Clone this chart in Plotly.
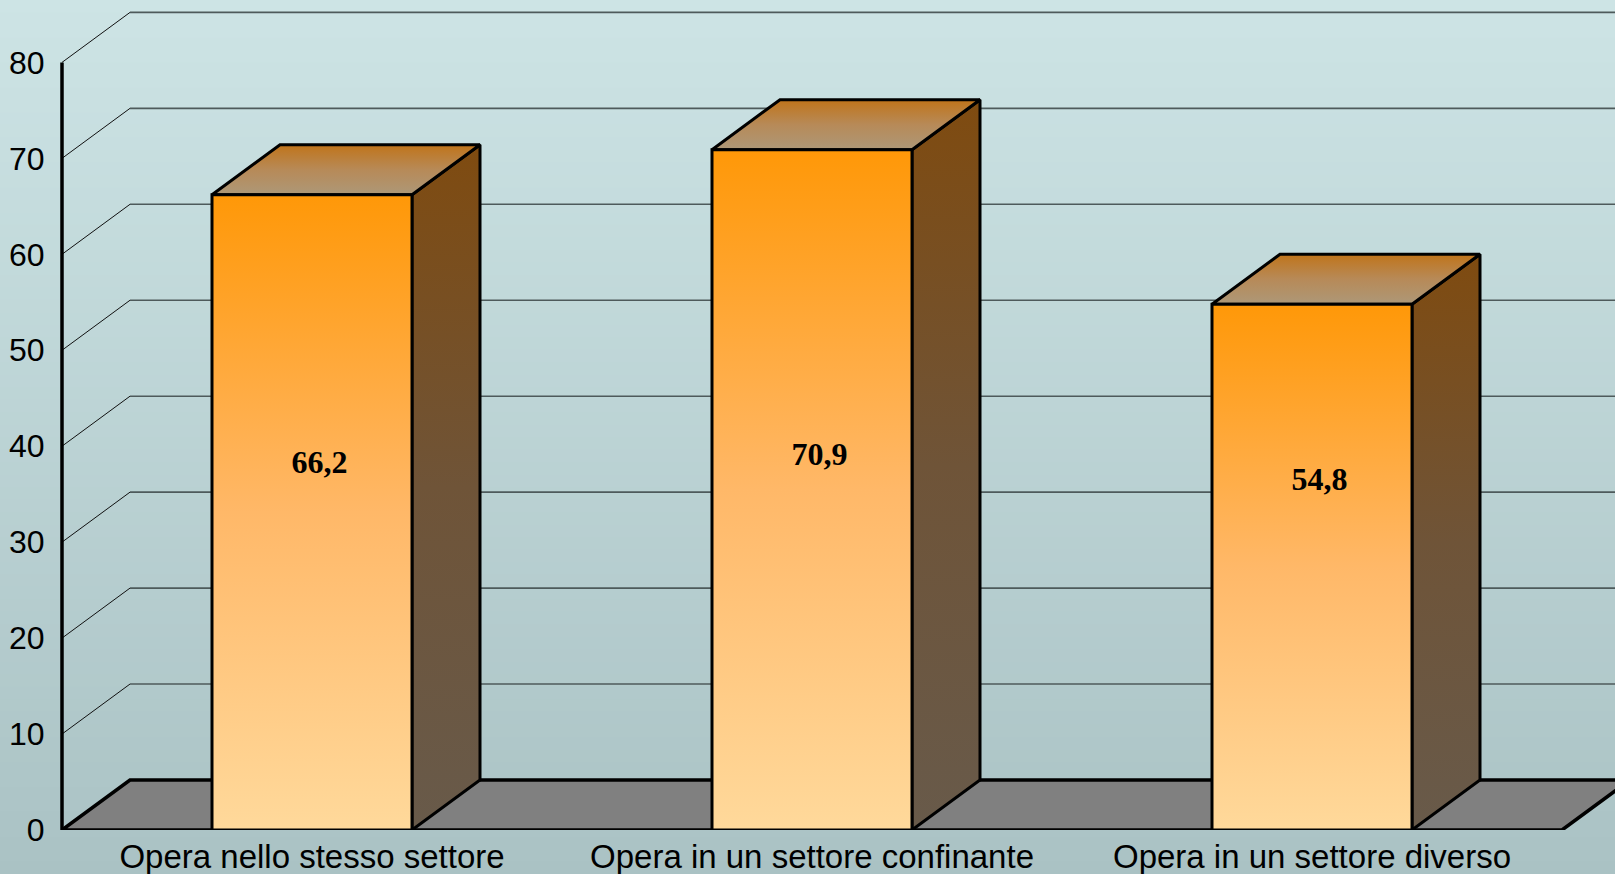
import plotly.graph_objects as go

# ---------------- data ----------------
categories = ["Opera nello stesso settore", "Opera in un settore confinante", "Opera in un settore diverso"]
values = [66.2, 70.9, 54.8]
value_labels = ["66,2", "70,9", "54,8"]
y_ticks = [0, 10, 20, 30, 40, 50, 60, 70, 80]

# ---------------- geometry / style ----------------
W, H = 1615, 874
ML, MB = 56, 44
PX_PER_X = 500.0          # pixels per category unit
PX_PER_Y = 9.595          # pixels per value unit
X0 = -0.5 - (62 - ML) / PX_PER_X
X1 = -0.5 + (W - 62) / PX_PER_X
Y1 = (H - MB) / PX_PER_Y
BAR_W = 0.4
DX = 68 / PX_PER_X        # depth offset (x)
DY = 50 / PX_PER_Y        # depth offset (y)
XL = -0.5
XR = len(categories) - 0.5

fig = go.Figure()

# background gradient (paper)
top_c = (205, 228, 229)
bot_c = (170, 194, 196)
N = 70
pw = W - ML
ph = H - MB
shapes = []
for i in range(N):
    p0 = i * H / N
    p1 = (i + 1) * H / N + 1
    t = (i + 0.5) / N
    c = tuple(round(top_c[k] + (bot_c[k] - top_c[k]) * t) for k in range(3))
    shapes.append(dict(type="rect", xref="paper", yref="paper", layer="below",
                       x0=-ML / pw - 0.01, x1=1.01,
                       y0=1 - p1 / ph, y1=1 - p0 / ph,
                       fillcolor="rgb(%d,%d,%d)" % c, line=dict(width=0)))

# back wall gridlines
gx_d, gy_d, gx_h, gy_h = [], [], [], []
for v in y_ticks:
    if v == 0:
        continue
    gx_d += [XL, XL + DX, None]
    gy_d += [v, v + DY, None]
    gx_h += [XL + DX, X1 + 0.2, None]
    gy_h += [v + DY, v + DY, None]
fig.add_trace(go.Scatter(x=gx_h, y=gy_h, mode="lines",
                         line=dict(color="#4e5a5b", width=1.6), hoverinfo="skip"))
fig.add_trace(go.Scatter(x=gx_d, y=gy_d, mode="lines",
                         line=dict(color="#111111", width=1), hoverinfo="skip"))

# floor
fig.add_trace(go.Scatter(
    x=[XL, XR, XR + DX, XL + DX, XL],
    y=[0, 0, DY, DY, 0],
    mode="lines", fill="toself", fillcolor="#808080",
    line=dict(color="black", width=3.5), hoverinfo="skip"))

# bars (3D boxes)
for i, v in enumerate(values):
    xa = i - BAR_W / 2
    xb = i + BAR_W / 2
    # side face
    fig.add_trace(go.Scatter(
        x=[xb, xb + DX, xb + DX, xb, xb],
        y=[0, DY, v + DY, v, 0],
        mode="lines", fill="toself",
        fillgradient=dict(type="vertical",
                          colorscale=[[0, "#685a4a"], [0.5, "#6f5438"], [1, "#7f4b10"]]),
        line=dict(color="black", width=3), hoverinfo="skip"))
    # top face
    fig.add_trace(go.Scatter(
        x=[xa, xb, xb + DX, xa + DX, xa],
        y=[v, v, v + DY, v + DY, v],
        mode="lines", fill="toself",
        fillgradient=dict(type="vertical",
                          colorscale=[[0, "#ad9878"], [0.5, "#b78a58"], [1, "#c0741a"]]),
        line=dict(color="black", width=3), hoverinfo="skip"))
    # front face
    fig.add_trace(go.Scatter(
        x=[xa, xb, xb, xa, xa],
        y=[0, 0, v, v, 0],
        mode="lines", fill="toself",
        fillgradient=dict(type="vertical",
                          colorscale=[[0, "#ffd99b"], [0.5, "#ffb868"], [1, "#ff9808"]]),
        line=dict(color="black", width=3), hoverinfo="skip",
        name=categories[i]))

# y axis line
fig.add_trace(go.Scatter(x=[XL, XL], y=[0, y_ticks[-1]], mode="lines",
                         line=dict(color="black", width=3.5), hoverinfo="skip"))

# value labels
fig.add_trace(go.Scatter(
    x=[i + 0.015 for i in range(len(values))],
    y=[27.5 + 0.16 * v for v in values],
    mode="text", text=value_labels,
    textfont=dict(family="Liberation Serif", size=32, color="black", weight="bold"),
    hoverinfo="skip", cliponaxis=False))

fig.update_layout(
    width=W, height=H,
    margin=dict(l=ML, r=0, t=0, b=MB, pad=0),
    paper_bgcolor="rgb(188,210,212)",
    plot_bgcolor="rgba(0,0,0,0)",
    showlegend=False,
    shapes=shapes,
    xaxis=dict(range=[X0, X1], showgrid=False, zeroline=False, showline=False,
               tickvals=list(range(len(categories))), ticktext=categories,
               ticks="", ticklabelstandoff=4, automargin=False,
               tickfont=dict(family="Liberation Sans", size=33, color="black"),
               fixedrange=True),
    yaxis=dict(range=[0, Y1], showgrid=False, zeroline=False, showline=False,
               tickvals=y_ticks, ticktext=[str(t) for t in y_ticks],
               ticks="outside", ticklen=4, tickcolor="rgba(0,0,0,0)", automargin=False,
               tickfont=dict(family="Liberation Sans", size=32, color="black"),
               fixedrange=True),
)

fig.write_html("out.html", config={"displayModeBar": False},
               post_script="document.body.style.margin='0';document.body.style.overflow='hidden';")
